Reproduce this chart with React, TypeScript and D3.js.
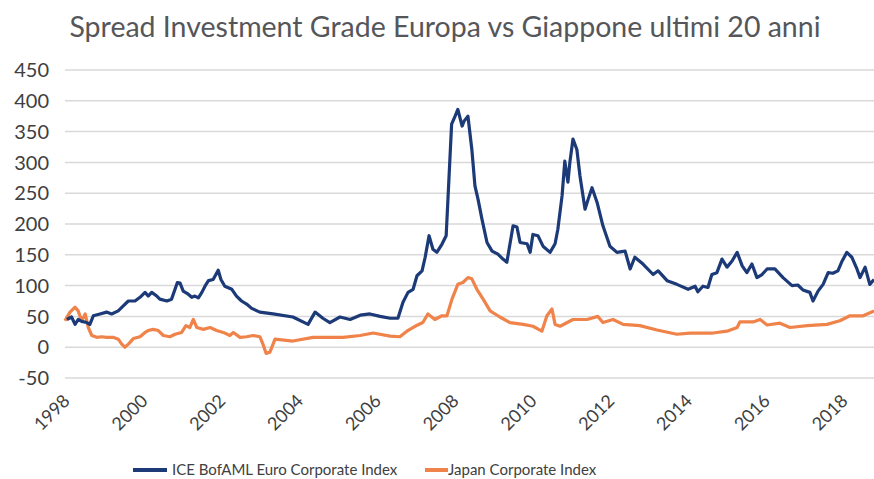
import React, { useEffect, useRef } from "react";
import { select, scaleLinear, line, range } from "d3";

// spread (bps), x as fractional years
const euroYears = [
  1997.92, 1998.04, 1998.13, 1998.21, 1998.3, 1998.43, 1998.51, 1998.6, 1998.77, 1998.94,
  1999.07, 1999.24, 1999.37, 1999.5, 1999.67, 1999.8, 1999.93, 2000.01, 2000.1, 2000.23,
  2000.31, 2000.49, 2000.61, 2000.7, 2000.76, 2000.83, 2000.91, 2001.04, 2001.13, 2001.21,
  2001.3, 2001.39, 2001.47, 2001.56, 2001.68, 2001.75, 2001.81, 2001.88, 2001.98, 2002.16,
  2002.28, 2002.41, 2002.54, 2002.67, 2002.88, 2003.22, 2003.73, 2004.12, 2004.3, 2004.5,
  2004.68, 2004.94, 2005.2, 2005.46, 2005.71, 2005.97, 2006.23, 2006.43, 2006.56, 2006.69,
  2006.82, 2006.92, 2007.05, 2007.13, 2007.23, 2007.33, 2007.43, 2007.56, 2007.67, 2007.81,
  2007.9, 2007.97, 2008.08, 2008.13, 2008.23, 2008.33, 2008.41, 2008.49, 2008.59, 2008.72,
  2008.85, 2009.0, 2009.13, 2009.23, 2009.39, 2009.49, 2009.57, 2009.75, 2009.83, 2009.9,
  2010.03, 2010.16, 2010.34, 2010.47, 2010.54, 2010.65, 2010.72, 2010.8, 2010.85, 2010.93,
  2011.03, 2011.11, 2011.24, 2011.32, 2011.42, 2011.55, 2011.7, 2011.88, 2012.06, 2012.27,
  2012.4, 2012.52, 2012.73, 2012.99, 2013.12, 2013.35, 2013.6, 2013.89, 2014.07, 2014.14,
  2014.27, 2014.4, 2014.5, 2014.63, 2014.76, 2014.89, 2015.02, 2015.15, 2015.28, 2015.4,
  2015.53, 2015.66, 2015.79, 2015.92, 2016.12, 2016.33, 2016.56, 2016.71, 2016.84, 2017.02,
  2017.1, 2017.23, 2017.36, 2017.49, 2017.61, 2017.74, 2017.85, 2017.97, 2018.1, 2018.23,
  2018.31, 2018.44, 2018.56, 2018.67,
];
const euroSpread = [
  45, 49, 37, 45, 42, 40, 37, 51, 54, 57,
  54, 59, 67, 75, 75, 81, 89, 83, 89, 83,
  78, 75, 78, 94, 105, 104, 91, 86, 81, 83,
  80, 89, 99, 108, 110, 118, 125, 110, 99, 94,
  83, 75, 70, 63, 57, 54, 49, 37, 57, 47,
  40, 49, 45, 52, 54, 50, 47, 47, 73, 89,
  94, 116, 124, 146, 181, 159, 154, 167, 181, 362,
  375, 386, 359, 367, 375, 321, 262, 240, 208, 170,
  156, 151, 143, 138, 197, 195, 170, 168, 154, 183,
  181, 164, 154, 168, 191, 246, 302, 268, 300, 338,
  321, 278, 224, 240, 259, 235, 197, 164, 154, 156,
  127, 146, 135, 118, 124, 108, 102, 94, 99, 90,
  99, 97, 118, 121, 143, 130, 140, 154, 132, 121,
  135, 113, 118, 127, 127, 113, 100, 101, 93, 89,
  75, 91, 102, 121, 120, 124, 140, 154, 146, 127,
  113, 130, 102, 110,
];

const japanYears = [
  1997.87, 1998.0, 1998.13, 1998.21, 1998.3, 1998.39, 1998.47, 1998.56, 1998.69, 1998.81,
  1998.94, 1999.11, 1999.24, 1999.33, 1999.41, 1999.5, 1999.63, 1999.8, 1999.93, 2000.01,
  2000.14, 2000.27, 2000.4, 2000.57, 2000.7, 2000.87, 2000.98, 2001.08, 2001.17, 2001.26,
  2001.43, 2001.6, 2001.77, 2001.94, 2002.11, 2002.2, 2002.37, 2002.54, 2002.71, 2002.88,
  2002.96, 2003.04, 2003.14, 2003.27, 2003.73, 2004.25, 2004.61, 2005.02, 2005.46, 2005.79,
  2006.23, 2006.48, 2006.66, 2006.87, 2007.07, 2007.2, 2007.38, 2007.56, 2007.69, 2007.82,
  2007.97, 2008.1, 2008.23, 2008.33, 2008.46, 2008.62, 2008.8, 2009.05, 2009.31, 2009.65,
  2009.9, 2010.13, 2010.26, 2010.39, 2010.47, 2010.6, 2010.93, 2011.29, 2011.57, 2011.7,
  2011.96, 2012.22, 2012.65, 2013.09, 2013.6, 2013.94, 2014.53, 2014.89, 2015.15, 2015.22,
  2015.56, 2015.74, 2015.92, 2016.25, 2016.51, 2016.95, 2017.46, 2017.79, 2018.05, 2018.39,
  2018.67,
];
const japanSpread = [
  43, 57, 65, 59, 43, 54, 32, 19, 16, 17,
  16, 16, 13, 5, 0, 5, 14, 17, 24, 27,
  29, 27, 19, 17, 21, 24, 35, 32, 45, 32,
  29, 32, 27, 24, 19, 24, 16, 17, 19, 17,
  5, -10, -8, 13, 10, 16, 16, 16, 19, 23,
  18, 17, 26, 34, 40, 54, 45, 51, 51, 78,
  102, 105, 113, 111, 94, 78, 59, 49, 40, 37,
  34, 26, 51, 62, 37, 34, 45, 45, 50, 40,
  45, 37, 35, 28, 21, 23, 23, 26, 32, 41,
  41, 45, 36, 39, 32, 35, 37, 43, 51, 51,
  59,
];

const yTicks = range(-50, 451, 50);
const xTickYears = range(1998, 2019, 2);
const seriesNames = ["ICE BofAML Euro Corporate Index", "Japan Corporate Index"];
const seriesColors = ["#1c3a78", "#f0834a"];
const title = "Spread Investment Grade Europa vs Giappone ultimi 20 anni";

const W = 874;
const H = 479;
const FONT = "Lato, 'Open Sans', sans-serif";

const App = () => {
  const svgRef = useRef(null);

  useEffect(() => {
    const svg = select(svgRef.current);
    svg.selectAll("*").remove();

    const xScale = scaleLinear().domain([1998, 2018]).range([70, 848]);
    const yScale = scaleLinear().domain([-50, 450]).range([378, 70]);

    svg.append("text")
      .attr("x", 445).attr("y", 37)
      .attr("text-anchor", "middle")
      .attr("font-family", FONT).attr("font-size", 28.5)
      .attr("fill", "#55565a")
      .text(title);

    //gridlines + y labels
    const grid = svg.append("g");
    grid.selectAll("line").data(yTicks).join("line")
      .attr("x1", 65).attr("x2", W)
      .attr("y1", d => yScale(d)).attr("y2", d => yScale(d))
      .attr("stroke", "#d9d9d9").attr("stroke-width", 1.5);
    grid.selectAll("text").data(yTicks).join("text")
      .attr("x", 49).attr("y", d => yScale(d))
      .attr("dy", "0.36em")
      .attr("text-anchor", "end")
      .attr("font-family", FONT).attr("font-size", 20)
      .attr("fill", "#404040")
      .text(d => d);

    // rotated year labels
    svg.append("g").selectAll("text").data(xTickYears).join("text")
      .attr("transform", d => `translate(${xScale(d) + 1},402) rotate(-45)`)
      .attr("text-anchor", "end")
      .attr("font-family", FONT).attr("font-size", 18)
      .attr("fill", "#404040")
      .text(d => d);

    const lineGen = line().x(d => xScale(d[0])).y(d => yScale(d[1]));
    const euro = euroYears.map((t, i) => [t, euroSpread[i]]);
    const japan = japanYears.map((t, i) => [t, japanSpread[i]]);

    [japan, euro].forEach((pts, i) => {
      svg.append("path")
        .attr("d", lineGen(pts))
        .attr("fill", "none")
        .attr("stroke", seriesColors[1 - i])
        .attr("stroke-width", 3.2)
        .attr("stroke-linejoin", "round");
    });

    // legend
    const legendPos = [{ x1: 133, x2: 167, tx: 172 }, { x1: 425, x2: 448, tx: 448 }];
    const legend = svg.append("g");
    seriesNames.forEach((name, i) => {
      const p = legendPos[i];
      legend.append("line")
        .attr("x1", p.x1).attr("x2", p.x2).attr("y1", 470).attr("y2", 470)
        .attr("stroke", seriesColors[i]).attr("stroke-width", 4);
      legend.append("text")
        .attr("x", p.tx).attr("y", 470).attr("dy", "0.36em")
        .attr("font-family", FONT).attr("font-size", 15)
        .attr("fill", "#404040")
        .text(name);
    });
  }, []);

  return (
    <svg
      ref={svgRef}
      width={W}
      height={H}
      style={{ position: "absolute", left: 0, top: 0, background: "#fff" }}
    />
  );
};

export default App;
